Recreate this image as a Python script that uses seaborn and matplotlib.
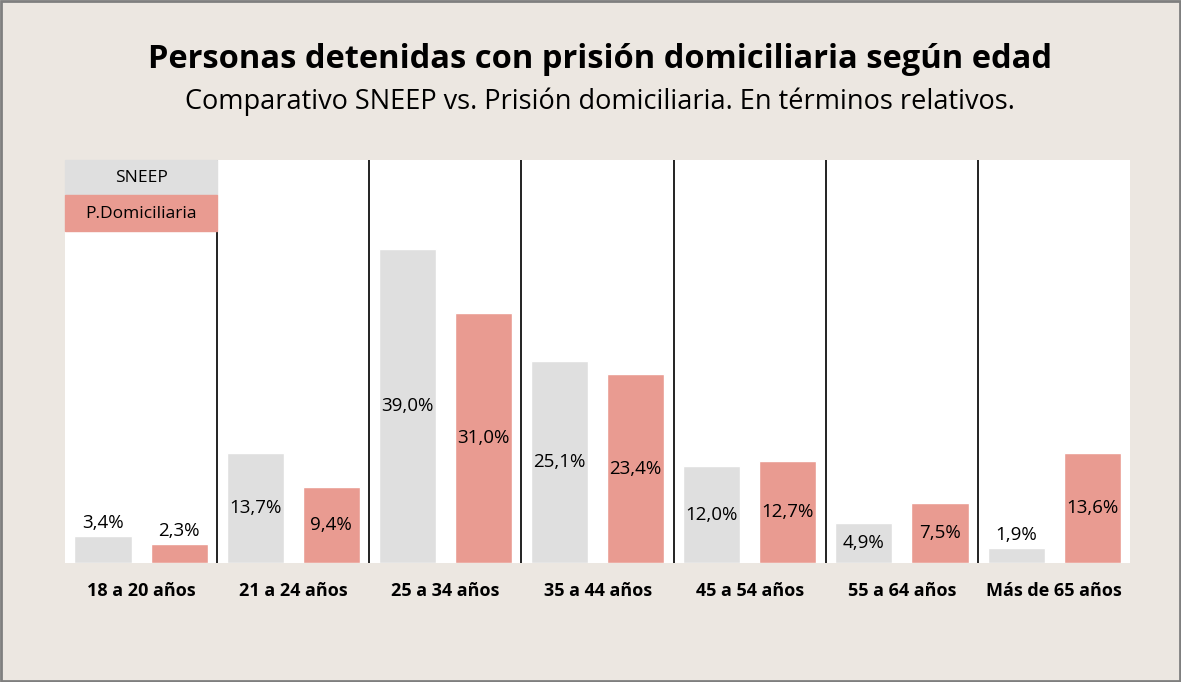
import matplotlib.pyplot as plt
import matplotlib.patches as mpatches
import seaborn as sns
import pandas as pd

edades = ['18 a 20 años', '21 a 24 años', '25 a 34 años', '35 a 44 años',
          '45 a 54 años', '55 a 64 años', 'Más de 65 años']
sneep = [3.4, 13.7, 39.0, 25.1, 12.0, 4.9, 1.9]
domiciliaria = [2.3, 9.4, 31.0, 23.4, 12.7, 7.5, 13.6]
series = ['SNEEP', 'P.Domiciliaria']

BG = '#ECE7E1'
GRIS = '#DFDFDF'
SALMON = '#E99B91'

df = pd.DataFrame({
    'edad': edades * 2,
    'serie': [series[0]] * len(edades) + [series[1]] * len(edades),
    'valor': sneep + domiciliaria,
})

sns.set_style('white')
plt.rcParams['font.family'] = ['Open Sans', 'DejaVu Sans']
plt.rcParams['text.color'] = 'black'
plt.rcParams['xtick.color'] = 'black'

fig = plt.figure(figsize=(11.81, 6.82), dpi=100, facecolor=BG)
ax = fig.add_axes([0.055, 0.1745, 0.902, 0.591])
ax.set_facecolor('white')

sns.barplot(data=df, x='edad', y='valor', hue='serie', order=edades,
            hue_order=series, palette=[GRIS, SALMON], width=1.0, gap=0.25,
            ax=ax, legend=False, saturation=1)

ax.set_xlim(-0.5, len(edades) - 0.5)
ax.set_ylim(0, 50)
ax.set_yticks([])
ax.set_xlabel('')
ax.set_ylabel('')
for s in ax.spines.values():
    s.set_visible(False)
ax.tick_params(axis='x', length=0, pad=14)
for lab in ax.get_xticklabels():
    lab.set_fontweight('bold')
    lab.set_fontsize(13)

# separadores verticales entre grupos
for i in range(1, len(edades)):
    ax.axvline(i - 0.5, color='#222222', lw=1.4)

# etiquetas de valores
for cont in ax.containers:
    for rect in cont:
        h = rect.get_height()
        xc = rect.get_x() + rect.get_width() / 2
        txt = f'{h:.1f}%'.replace('.', ',')
        if h < 4:
            ax.text(xc, h + 0.5, txt, ha='center', va='bottom', fontsize=13.5)
        else:
            ax.text(xc, h / 2, txt, ha='center', va='center', fontsize=13.5)

# leyenda en la esquina superior izquierda
trans = ax.get_xaxis_transform()
ax.add_patch(mpatches.Rectangle((-0.5, 0.913), 1.0, 0.087, transform=trans,
                                color=GRIS, zorder=3, clip_on=False))
ax.add_patch(mpatches.Rectangle((-0.5, 0.823), 1.0, 0.090, transform=trans,
                                color=SALMON, zorder=3, clip_on=False))
ax.text(0, 0.955, series[0], transform=trans, ha='center', va='center',
        fontsize=12.5, zorder=4)
ax.text(0, 0.866, series[1], transform=trans, ha='center', va='center',
        fontsize=12.5, zorder=4)

fig.text(0.508, 0.913, 'Personas detenidas con prisión domiciliaria según edad',
         ha='center', va='center', fontsize=23.5, fontweight='bold')
fig.text(0.508, 0.851, 'Comparativo SNEEP vs. Prisión domiciliaria. En términos relativos.',
         ha='center', va='center', fontsize=19.5)

fig.patches.append(mpatches.Rectangle((0.001, 0.0015), 0.998, 0.997,
                                      transform=fig.transFigure, fill=False,
                                      edgecolor='#7F7F7F', lw=2))

fig.savefig('out.png', dpi=100, facecolor=BG)
